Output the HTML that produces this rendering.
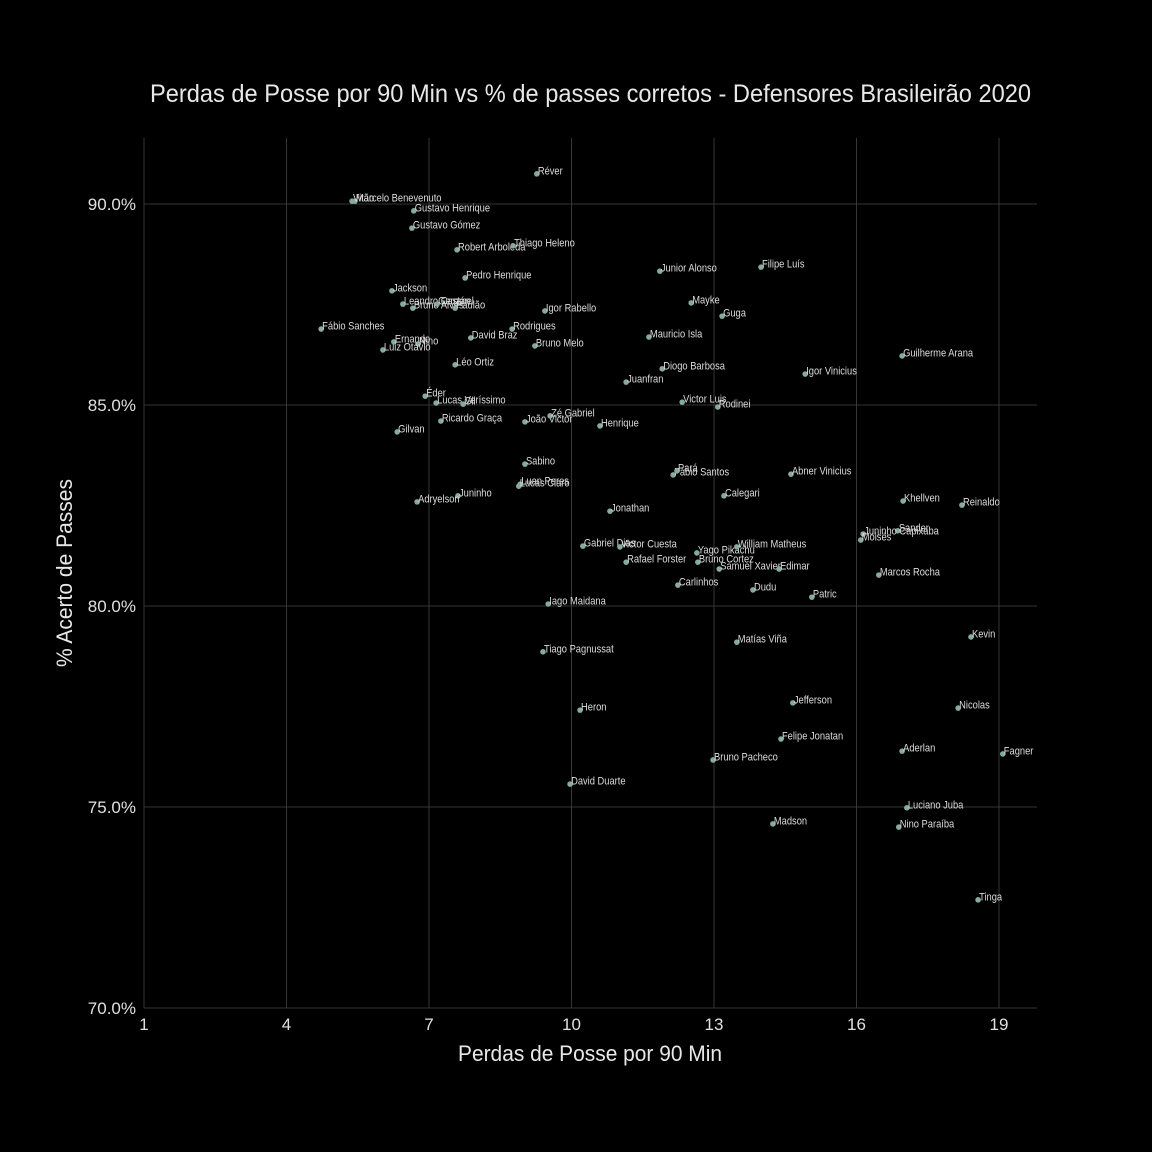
<!DOCTYPE html>
<html><head><meta charset="utf-8">
<style>
html,body{margin:0;padding:0;background:#000;}
svg{display:block;font-family:"Liberation Sans Narrow","Liberation Sans",sans-serif;}
</style></head>
<body>
<svg id="chart" width="1152" height="1152" viewBox="0 0 1152 1152" xmlns="http://www.w3.org/2000/svg">
<rect width="1152" height="1152" fill="#000"/>
<text x="150" y="102" textLength="881" lengthAdjust="spacingAndGlyphs" fill="#e8e8e8" font-size="25">Perdas de Posse por 90 Min vs % de passes corretos - Defensores Brasileirão 2020</text>
<text x="458" y="1061" textLength="264" lengthAdjust="spacingAndGlyphs" fill="#e8e8e8" font-size="22">Perdas de Posse por 90 Min</text>
<text transform="translate(72,573) rotate(-90)" x="-94" textLength="188" lengthAdjust="spacingAndGlyphs" fill="#e8e8e8" font-size="22">% Acerto de Passes</text>
<g id="grid"></g><g id="ticks"></g><g id="points"></g>
</svg>
<script>
const xTicks=[1,4,7,10,13,16,19];
const yTicks=[70,75,80,85,90];
const names=["Réver","Marcelo Benevenuto","Vitão","Gustavo Henrique","Gustavo Gómez","Robert Arboleda","Thiago Heleno","Pedro Henrique","Jackson","Leandro Castán","Bruno Alves","Geromel","Paulão","Fábio Sanches","Rodrigues","Igor Rabello","David Braz","Bruno Melo","Ernando","Nino","Luiz Otávio","Léo Ortiz","Éder","Lucas Veríssimo","Gil","Ricardo Graça","João Victor","Zé Gabriel","Henrique","Gilvan","Juanfran","Diogo Barbosa","Mauricio Isla","Junior Alonso","Mayke","Guga","Filipe Luís","Guilherme Arana","Igor Vinicius","Victor Luis","Rodinei","Sabino","Luan Peres","Lucas Claro","Juninho","Adryelson","Jonathan","Fábio Santos","Pará","Abner Vinicius","Calegari","Khellven","Reinaldo","Sander","Juninho Capixaba","Moisés","Gabriel Dias","Victor Cuesta","Rafael Forster","Yago Pikachu","Bruno Cortez","William Matheus","Samuel Xavier","Edimar","Marcos Rocha","Carlinhos","Dudu","Patric","Iago Maidana","Kevin","Matías Viña","Tiago Pagnussat","Jefferson","Nicolas","Heron","Felipe Jonatan","Aderlan","Fagner","Bruno Pacheco","David Duarte","Luciano Juba","Madson","Nino Paraíba","Tinga"];
const losses=[9.27,5.44,5.38,6.68,6.64,7.59,8.77,7.76,6.22,6.45,6.66,7.17,7.55,4.73,8.75,9.44,7.88,9.23,6.26,6.77,6.03,7.55,6.92,7.15,7.72,7.25,9.02,9.55,10.60,6.33,11.15,11.91,11.63,11.86,12.52,13.17,13.99,16.96,14.92,12.33,13.08,9.02,8.92,8.89,7.61,6.75,10.81,12.14,12.22,14.62,13.21,16.98,18.22,16.87,16.14,16.09,10.24,11.02,11.15,12.64,12.66,13.48,13.11,14.37,16.47,12.24,13.82,15.06,9.51,18.41,13.48,9.40,14.66,18.14,10.18,14.41,16.96,19.08,12.98,9.97,17.06,14.24,16.89,18.56];
const passPct=[90.75,90.07,90.07,89.83,89.40,88.86,88.96,88.16,87.84,87.51,87.41,87.51,87.41,86.89,86.89,87.34,86.67,86.47,86.57,86.52,86.37,86.00,85.22,85.05,85.02,84.60,84.58,84.73,84.48,84.33,85.57,85.90,86.69,88.33,87.54,87.21,88.43,86.22,85.77,85.07,84.95,83.53,83.03,82.98,82.74,82.59,82.36,83.26,83.36,83.28,82.74,82.61,82.51,81.87,81.79,81.64,81.49,81.47,81.09,81.32,81.09,81.47,80.92,80.92,80.77,80.52,80.40,80.22,80.05,79.23,79.10,78.86,77.59,77.46,77.41,76.69,76.39,76.32,76.17,75.57,74.98,74.58,74.50,72.69];
const NS="http://www.w3.org/2000/svg";
const L=144,R=1037,T=138,B=1008;
function xs(v){return 144+(v-1)*47.5;}
function ys(v){return 204+(90-v)*40.2;}
function mk(tag,attrs,parent,text){const e=document.createElementNS(NS,tag);for(const k in attrs)e.setAttribute(k,attrs[k]);if(text!==undefined)e.textContent=text;parent.appendChild(e);return e;}
const grid=document.getElementById('grid'),ticks=document.getElementById('ticks'),pts=document.getElementById('points');
xTicks.forEach(t=>{
  const l=mk('line',{x1:xs(t),x2:xs(t),y1:T,y2:B,stroke:'#444','stroke-width':0.8},grid);
  
  
  const tx=mk('text',{x:xs(t),y:1030,'text-anchor':'middle',fill:'#e0e0e0','font-size':17},ticks,String(t));
  
  
});
yTicks.forEach(t=>{
  const l=mk('line',{x1:L,x2:R,y1:ys(t),y2:ys(t),stroke:'#444','stroke-width':0.8},grid);
  
  
  const tx=mk('text',{x:136,y:ys(t)+6,'text-anchor':'end',fill:'#e0e0e0','font-size':17},ticks,t.toFixed(1)+'%');
  
  
});
names.forEach((n,i)=>{
  const cx=xs(losses[i]),cy=ys(passPct[i]);
  const c=mk('circle',{cx:cx,cy:cy,r:2.8,fill:'#86aa9c'},pts);
  
  
  const t=mk('text',{x:0,y:0,transform:'translate('+(cx+1)+','+(cy+0.5)+') scale(0.85,1)',fill:'#dcdcdc','font-size':11},pts,n);
  
  
});
</script>
</body></html>
